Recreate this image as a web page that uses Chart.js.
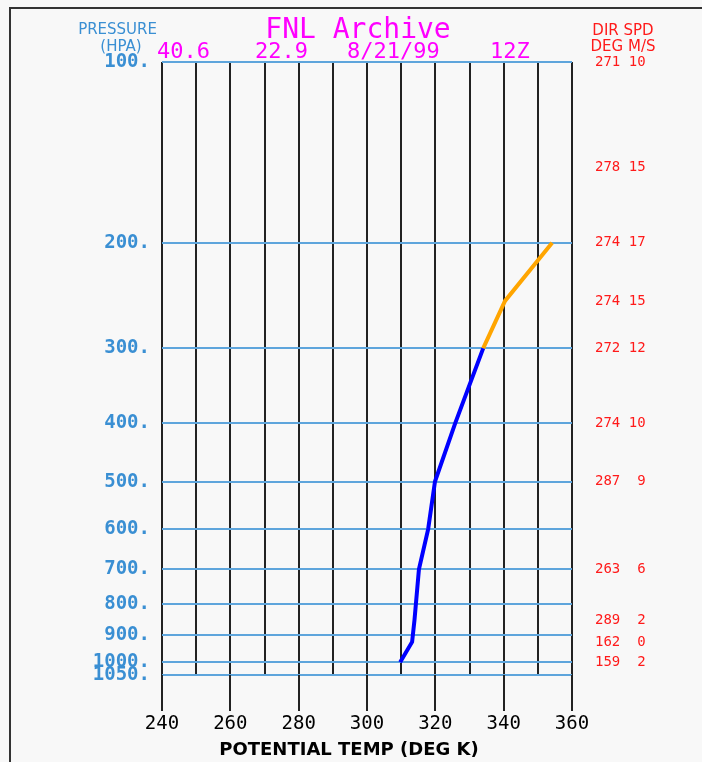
<!DOCTYPE html>
<html>
<head>
<meta charset="utf-8">
<script src="https://cdn.jsdelivr.net/npm/chart.js@4/dist/chart.umd.min.js"></script>
<style>
  html, body { margin: 0; padding: 0; background: #f8f8f8; }
  canvas { display: block; }
</style>
</head>
<body>
<canvas id="grafico" width="702" height="762"></canvas>
<script>
// niveles de presion (hPa) que lleva el grafico
const nivelesPresion = [100, 200, 300, 400, 500, 600, 700, 800, 900, 1000, 1050];

// perfil de temperatura potencial (K) por nivel
const perfilPresion = [1000, 925, 850, 700, 600, 500, 400, 300, 250, 200];
const perfilTheta = [309.7, 313.2, 313.9, 315.2, 317.9, 319.9, 325.8, 334.0, 340.4, 354.2];

// viento a la derecha: direccion (grados) y velocidad (m/s)
const vientoPresion = [100, 150, 200, 250, 300, 400, 500, 700, 850, 925, 1000];
const vientoDir = [271, 278, 274, 274, 272, 274, 287, 263, 289, 162, 159];
const vientoVel = [10, 15, 17, 15, 12, 10, 9, 6, 2, 0, 2];

// encabezado
const titulo = "FNL Archive";
const subtitulos = ["40.6", "22.9", "8/21/99", "12Z"];

const AZUL = "#3a8fd3";
const ROJO = "#ff1a1a";
const MAGENTA = "#ff00ff";

// tramo bajo (azul) hasta 300 hPa y tramo alto (naranja) desde 300 hPa
const tramoBajo = [];
const tramoAlto = [];
perfilPresion.forEach((p, i) => {
  if (p >= 300) tramoBajo.push({ x: perfilTheta[i], y: p });
  if (p <= 300) tramoAlto.push({ x: perfilTheta[i], y: p });
});

//--------------------------- textos extra y marco ---------------------------//
const textosExtra = {
  id: "textosExtra",
  beforeDraw(chart) {
    const c = chart.ctx;
    c.save();
    c.fillStyle = "#f8f8f8";
    c.fillRect(0, 0, chart.width, chart.height);
    c.strokeStyle = "#333";
    c.lineWidth = 2;
    c.beginPath();
    c.moveTo(10, chart.height);
    c.lineTo(10, 8);
    c.lineTo(chart.width, 8);
    c.stroke();
    c.restore();
  },
  afterDraw(chart) {
    const c = chart.ctx;
    const area = chart.chartArea;
    const x = chart.scales.x;
    const y = chart.scales.y;
    c.save();

    // marcas largas bajo el eje x
    c.strokeStyle = "#222";
    c.lineWidth = 2;
    for (let v = 240; v <= 360; v += 20) {
      const px = Math.round(x.getPixelForValue(v));
      c.beginPath();
      c.moveTo(px, area.bottom);
      c.lineTo(px, 711);
      c.stroke();
    }

    // titulo
    c.fillStyle = MAGENTA;
    c.textBaseline = "alphabetic";
    c.textAlign = "center";
    c.font = "28px 'DejaVu Sans Mono'";
    c.fillText(titulo, 358, 38);
    c.textAlign = "left";
    c.font = "22px 'DejaVu Sans Mono'";
    const xsSub = [157, 255, 347, 490];
    subtitulos.forEach((t, i) => c.fillText(t, xsSub[i], 58));

    // etiquetas de presion arriba a la izquierda
    c.fillStyle = AZUL;
    c.font = "15px 'DejaVu Sans'";
    c.textAlign = "right";
    c.textBaseline = "middle";
    c.fillText("PRESSURE", 157, 30);
    c.textAlign = "center";
    c.fillText("(HPA)", 121, 47);

    // viento a la derecha
    c.fillStyle = ROJO;
    c.font = "15px 'DejaVu Sans'";
    c.textAlign = "center";
    c.fillText("DIR SPD", 623, 31);
    c.fillText("DEG M/S", 623, 47);
    c.font = "14px 'DejaVu Sans Mono'";
    c.textAlign = "left";
    vientoPresion.forEach((p, i) => {
      const py = y.getPixelForValue(p);
      const txt = vientoDir[i] + " " + String(vientoVel[i]).padStart(2, " ");
      c.fillText(txt, 595, py);
    });

    // titulo del eje x
    c.fillStyle = "#000";
    c.font = "bold 18px 'DejaVu Sans'";
    c.textAlign = "center";
    c.fillText("POTENTIAL TEMP (DEG K)", 349, 750);
    c.restore();
  }
};

//--------------------------------- grafico ----------------------------------//
const config = {
  type: "line",
  data: {
    datasets: [
      {
        data: tramoBajo,
        borderColor: "#0000ff",
        borderWidth: 4,
        pointRadius: 0,
        tension: 0
      },
      {
        data: tramoAlto,
        borderColor: "#ffa500",
        borderWidth: 4,
        pointRadius: 0,
        tension: 0
      }
    ]
  },
  options: {
    responsive: false,
    animation: false,
    layout: { padding: { left: 0, right: 130, top: 62, bottom: 0 } },
    plugins: {
      legend: { display: false },
      tooltip: { enabled: false },
      title: { display: false }
    },
    scales: {
      x: {
        type: "linear",
        min: 240,
        max: 360,
        afterFit: (s) => { s.height = 87; },
        ticks: {
          stepSize: 10,
          autoSkip: false,
          maxRotation: 0,
          padding: 38,
          color: "#000",
          font: { family: "'DejaVu Sans Mono'", size: 19 },
          callback: (v) => (v % 20 === 0 ? String(v) : "")
        },
        grid: { color: "#222", lineWidth: 2, drawTicks: false },
        border: { display: false }
      },
      y: {
        type: "logarithmic",
        reverse: true,
        min: 100,
        max: 1050,
        afterFit: (s) => { s.width = 162; },
        afterBuildTicks: (s) => {
          s.ticks = nivelesPresion.map((v) => ({ value: v }));
        },
        ticks: {
          autoSkip: false,
          padding: 12,
          color: AZUL,
          font: { family: "'DejaVu Sans Mono'", size: 19, weight: "bold" },
          callback: (v) => v + "."
        },
        grid: { color: "#5ea5dc", lineWidth: 2, drawTicks: false },
        border: { display: false }
      }
    }
  },
  plugins: [textosExtra]
};

new Chart(document.getElementById("grafico"), config);
</script>
</body>
</html>
